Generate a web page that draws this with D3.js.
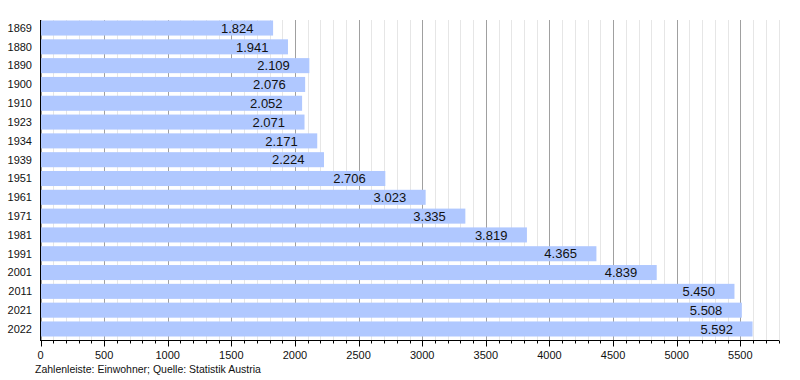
<!DOCTYPE html>
<html>
<head>
<meta charset="utf-8">
<script src="https://cdn.jsdelivr.net/npm/d3@7"></script>
<style>
    body { margin: 0; background: #fff; }
    svg { display: block; font-family: "Liberation Sans", Arial, sans-serif; }
</style>
</head>
<body>
<svg id="chart"></svg>
<script>

// DATA

const years = ["1869", "1880", "1890", "1900", "1910", "1923", "1934", "1939", "1951",
    "1961", "1971", "1981", "1991", "2001", "2011", "2021", "2022"];

const population = [1824, 1941, 2109, 2076, 2052, 2071, 2171, 2224, 2706,
    3023, 3335, 3819, 4365, 4839, 5450, 5508, 5592];

const majorTicks = [0, 500, 1000, 1500, 2000, 2500, 3000, 3500, 4000, 4500, 5000, 5500];

const footerText = "Zahlenleiste: Einwohner; Quelle: Statistik Austria";


// CHART

const width = 800;
const height = 380;

const svg = d3.select("#chart")
    .attr("width", width)
    .attr("height", height);

const x = d3.scaleLinear()
    .domain([0, 5800])
    .range([40.5, 778.5]);

const y = d3.scaleBand()
    .domain(years)
    .range([20.5, 336.5])
    .paddingInner(0.2)
    .paddingOuter(0);

const minorTicks = d3.range(0, 5801, 100);


// Grid lines

svg.append("g")
    .selectAll("line")
    .data(minorTicks)
    .join("line")
    .attr("x1", d => Math.round(x(d)) + 0.5)
    .attr("x2", d => Math.round(x(d)) + 0.5)
    .attr("y1", 20)
    .attr("y2", 340)
    .attr("stroke", d => d % 500 === 0 ? "#a0a0a0" : "#e6e6e6")
    .attr("stroke-width", 1);


// Bars

svg.append("g")
    .selectAll("rect")
    .data(population)
    .join("rect")
    .attr("x", x(0) + 0.5)
    .attr("y", (d, i) => y(years[i]))
    .attr("width", d => x(d) - x(0))
    .attr("height", y.bandwidth())
    .attr("fill", "#b0c8ff");


// Value labels

const germanFormat = d3.formatLocale({ decimal: ",", thousands: ".", grouping: [3], currency: ["", "€"] }).format(",d");

svg.append("g")
    .selectAll("text")
    .data(population)
    .join("text")
    .attr("x", d => x(d) - 19)
    .attr("y", (d, i) => y(years[i]) + y.bandwidth() / 2)
    .attr("dy", "0.36em")
    .attr("text-anchor", "end")
    .attr("font-size", 13)
    .attr("fill", "#111")
    .text(d => germanFormat(d));


// Year labels

svg.append("g")
    .selectAll("text")
    .data(years)
    .join("text")
    .attr("x", 32)
    .attr("y", d => y(d) + y.bandwidth() / 2)
    .attr("dy", "0.35em")
    .attr("text-anchor", "end")
    .attr("font-size", 11)
    .attr("fill", "#111")
    .text(d => d);


// Axes

svg.append("line")
    .attr("x1", 40.5)
    .attr("x2", 40.5)
    .attr("y1", 20)
    .attr("y2", 340)
    .attr("stroke", "#000");

const axis = svg.append("g")
    .attr("transform", "translate(0,340.5)");

axis.append("line")
    .attr("x1", 40)
    .attr("x2", 779)
    .attr("stroke", "#000");

axis.selectAll(".minorTick")
    .data(minorTicks)
    .join("line")
    .attr("class", "minorTick")
    .attr("x1", d => Math.round(x(d)) + 0.5)
    .attr("x2", d => Math.round(x(d)) + 0.5)
    .attr("y1", 0)
    .attr("y2", d => d % 500 === 0 ? 6 : 3)
    .attr("stroke", "#000");

axis.selectAll(".tickLabel")
    .data(majorTicks)
    .join("text")
    .attr("class", "tickLabel")
    .attr("x", d => x(d))
    .attr("y", 18)
    .attr("text-anchor", "middle")
    .attr("font-size", 11)
    .attr("fill", "#111")
    .text(d => d);


// Footer

svg.append("text")
    .attr("x", 35)
    .attr("y", 373)
    .attr("font-size", 10.5)
    .attr("fill", "#111")
    .text(footerText);

</script>
</body>
</html>
